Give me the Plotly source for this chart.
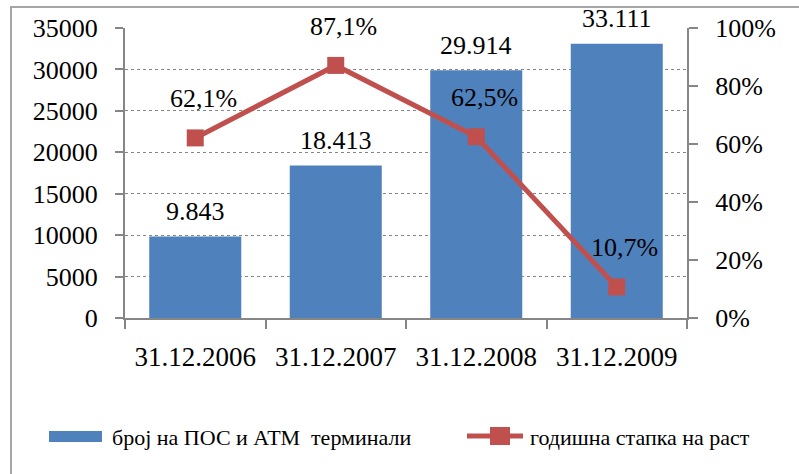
import plotly.graph_objects as go

# data
dates = ["31.12.2006", "31.12.2007", "31.12.2008", "31.12.2009"]
terminals = [9843, 18413, 29914, 33111]
growth_pct = [62.1, 87.1, 62.5, 10.7]

bar_name = "број на ПОС и АТМ  терминали"
line_name = "годишна стапка на раст"

BLUE = "#4F81BD"
RED = "#C0504D"
AXIS = "#868686"
FONT = '"Liberation Serif", "Times New Roman", serif'

# plot area in pixels (used for the non-data decoration only)
L, R, T, B = 125, 687, 28, 318


def px_x(x):
    return (x - L) / (R - L)


def px_y(y):
    return (B - y) / (B - T)


fig = go.Figure()
fig.add_trace(
    go.Bar(
        x=dates,
        y=terminals,
        name=bar_name,
        marker=dict(color=BLUE, line=dict(width=0)),
        showlegend=False,
    )
)
fig.add_trace(
    go.Scatter(
        x=dates,
        y=growth_pct,
        name=line_name,
        mode="lines+markers",
        line=dict(color=RED, width=5),
        marker=dict(symbol="square", size=17, color=RED),
        yaxis="y2",
        cliponaxis=False,
        showlegend=False,
    )
)

# data labels
annotations = []
for d, v in zip(dates, terminals):
    annotations.append(
        dict(
            x=d, y=v, xref="x", yref="y",
            text=f"{v:,}".replace(",", "."),
            showarrow=False, yshift=25,
            font=dict(family=FONT, size=26, color="black"),
        )
    )
for d, p in zip(dates, growth_pct):
    annotations.append(
        dict(
            x=d, y=p, xref="x", yref="y2",
            text=f"{p:.1f}%".replace(".", ","),
            showarrow=False, yshift=39, xshift=8,
            font=dict(family=FONT, size=26, color="black"),
        )
    )

# legend, drawn by hand to get the wide excel-style keys
annotations.append(
    dict(
        x=px_x(110), y=px_y(437), xref="paper", yref="paper",
        xanchor="left", yanchor="middle", text=bar_name, showarrow=False,
        font=dict(family=FONT, size=22, color="black"),
    )
)
annotations.append(
    dict(
        x=px_x(528), y=px_y(437), xref="paper", yref="paper",
        xanchor="left", yanchor="middle", text=line_name, showarrow=False,
        font=dict(family=FONT, size=22, color="black"),
    )
)

shapes = [
    # chart border
    dict(type="rect", xref="paper", yref="paper",
         x0=px_x(11), y0=px_y(7), x1=px_x(820), y1=px_y(500),
         line=dict(color="#A6A6A6", width=2), layer="below"),
    # legend keys
    dict(type="rect", xref="paper", yref="paper",
         x0=px_x(49), y0=px_y(442), x1=px_x(102), y1=px_y(431),
         fillcolor=BLUE, line=dict(width=0)),
    dict(type="line", xref="paper", yref="paper",
         x0=px_x(467), y0=px_y(436), x1=px_x(523), y1=px_y(436),
         line=dict(color=RED, width=5)),
    dict(type="rect", xref="paper", yref="paper",
         x0=px_x(490), y0=px_y(445), x1=px_x(510), y1=px_y(427),
         fillcolor=RED, line=dict(width=0)),
]

fig.update_layout(
    width=799,
    height=474,
    margin=dict(l=L, r=799 - R, t=T, b=474 - B),
    paper_bgcolor="white",
    plot_bgcolor="white",
    bargap=0.345,
    showlegend=False,
    font=dict(family=FONT, size=26, color="black"),
    xaxis=dict(
        type="category",
        showline=True, linecolor=AXIS, linewidth=2,
        ticks="outside", ticklen=9, tickcolor=AXIS, tickwidth=2,
        tickson="boundaries",
        ticklabelstandoff=14,
        tickfont=dict(family=FONT, size=27, color="black"),
    ),
    yaxis=dict(
        range=[0, 35000], dtick=5000, tickformat="d",
        showline=True, linecolor=AXIS, linewidth=2,
        ticks="outside", ticklen=8, tickcolor=AXIS, tickwidth=2,
        showgrid=True, gridcolor=AXIS, gridwidth=1, griddash="dot",
        zeroline=False,
        ticklabelstandoff=12,
        tickfont=dict(family=FONT, size=26, color="black"),
    ),
    yaxis2=dict(
        overlaying="y", side="right",
        range=[0, 100], dtick=20, ticksuffix="%",
        showline=True, linecolor=AXIS, linewidth=2,
        ticks="outside", ticklen=9, tickcolor=AXIS, tickwidth=2,
        showgrid=False, zeroline=False,
        ticklabelstandoff=12,
        tickfont=dict(family=FONT, size=26, color="black"),
    ),
    annotations=annotations,
    shapes=shapes,
)

# the page body has a default 8px margin; drop it so the chart sits at 0,0
fig.write_html(
    "out.html",
    config={"displayModeBar": False},
    post_script="document.body.style.margin='0';",
)
